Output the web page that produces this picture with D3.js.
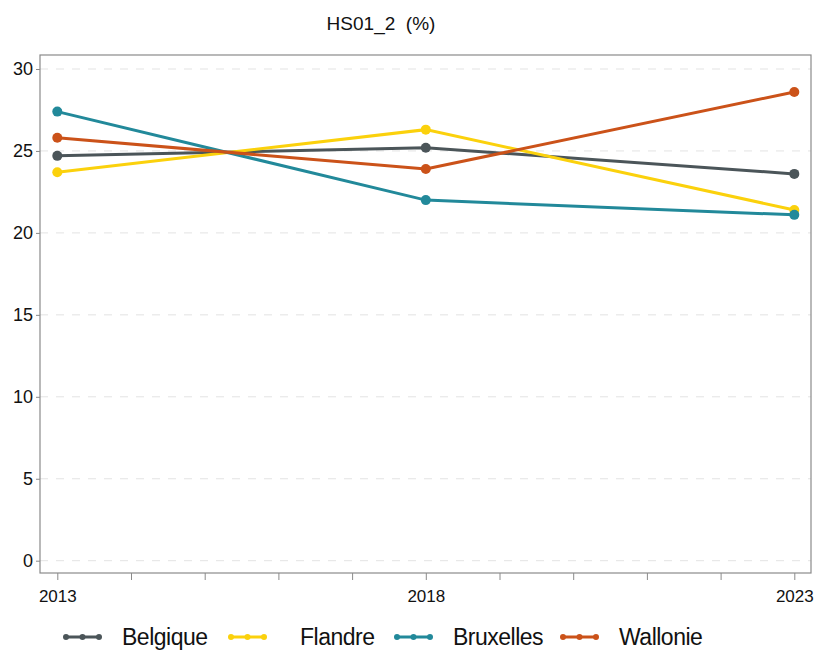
<!DOCTYPE html>
<html>
<head>
<meta charset="utf-8">
<script src="https://cdn.jsdelivr.net/npm/d3@7"></script>
<style>
  body { margin: 0; background: #fff; }
  text { font-family: "Liberation Sans", Arial, sans-serif; fill: #111; }
</style>
</head>
<body>
<svg width="817" height="652"></svg>
<script>
// data
const years = [2013, 2018, 2023];
const belgique = [24.7, 25.2, 23.6];
const flandre = [23.7, 26.3, 21.4];
const bruxelles = [27.4, 22.0, 21.1];
const wallonie = [25.8, 23.9, 28.6];
const yTicks = [0, 5, 10, 15, 20, 25, 30];
const xLabels = [2013, 2018, 2023];

const series = [
  {name: "Belgique", values: belgique, color: "#4b5559"},
  {name: "Flandre", values: flandre, color: "#fbd10c"},
  {name: "Bruxelles", values: bruxelles, color: "#22899a"},
  {name: "Wallonie", values: wallonie, color: "#cb5219"}
];

const svg = d3.select("svg");
const frame = {left: 40, right: 811, top: 55, bottom: 573};

const x = d3.scaleLinear().domain([2013, 2023]).range([57.3, 794.3]);
const y = d3.scaleLinear().domain([0, 30]).range([560.7, 69]);

// gridlines
svg.append("g")
  .selectAll("line")
  .data(yTicks)
  .join("line")
  .attr("x1", frame.left).attr("x2", frame.right)
  .attr("y1", d => y(d)).attr("y2", d => y(d))
  .attr("stroke", "#e3e3e3")
  .attr("stroke-dasharray", "8,8");

// frame
svg.append("rect")
  .attr("x", frame.left).attr("y", frame.top)
  .attr("width", frame.right - frame.left)
  .attr("height", frame.bottom - frame.top)
  .attr("fill", "none")
  .attr("stroke", "#8a8a8a")
  .attr("stroke-width", 1.2);

// y axis
const yAxis = svg.append("g")
  .attr("transform", `translate(${frame.left},0)`)
  .call(d3.axisLeft(y).tickValues(yTicks).tickSize(4).tickPadding(3));
yAxis.select(".domain").remove();
yAxis.selectAll("line").attr("stroke", "#8a8a8a");
yAxis.selectAll("text").attr("font-size", 18).attr("font-family", null).attr("fill", "#111");

// x axis
const xAxis = svg.append("g")
  .attr("transform", `translate(0,${frame.bottom})`)
  .call(d3.axisBottom(x).tickValues(d3.range(2013, 2024)).tickSize(7).tickPadding(10)
    .tickFormat(d => xLabels.includes(d) ? d : ""));
xAxis.select(".domain").remove();
xAxis.selectAll("line").attr("stroke", "#8a8a8a");
xAxis.selectAll("text").attr("font-size", 17).attr("font-family", null).attr("fill", "#111");

// lines and markers
const line = d3.line().x((d, i) => x(years[i])).y(d => y(d));
series.forEach(s => {
  const g = svg.append("g");
  g.append("path")
    .attr("d", line(s.values))
    .attr("fill", "none")
    .attr("stroke", s.color)
    .attr("stroke-width", 3);
  g.selectAll("circle")
    .data(s.values)
    .join("circle")
    .attr("cx", (d, i) => x(years[i]))
    .attr("cy", d => y(d))
    .attr("r", 5)
    .attr("fill", s.color);
});

// title
svg.append("text")
  .attr("x", 381).attr("y", 30)
  .attr("text-anchor", "middle")
  .attr("font-size", 19)
  .attr("xml:space", "preserve")
  .text("HS01_2  (%)");

// legend
const legendX = [66, 231, 397, 563];
const legend = svg.append("g");
series.forEach((s, i) => {
  const lg = legend.append("g").attr("transform", `translate(${legendX[i]},637)`);
  lg.append("line").attr("x1", 0).attr("x2", 33)
    .attr("stroke", s.color).attr("stroke-width", 3);
  lg.selectAll("circle").data([0, 16.5, 33]).join("circle")
    .attr("cx", d => d).attr("r", 3).attr("fill", s.color);
  lg.append("text")
    .attr("x", i === 1 ? 69 : 56).attr("y", 8)
    .attr("font-size", 23)
    .attr("letter-spacing", -0.5)
    .text(s.name);
});
</script>
</body>
</html>
